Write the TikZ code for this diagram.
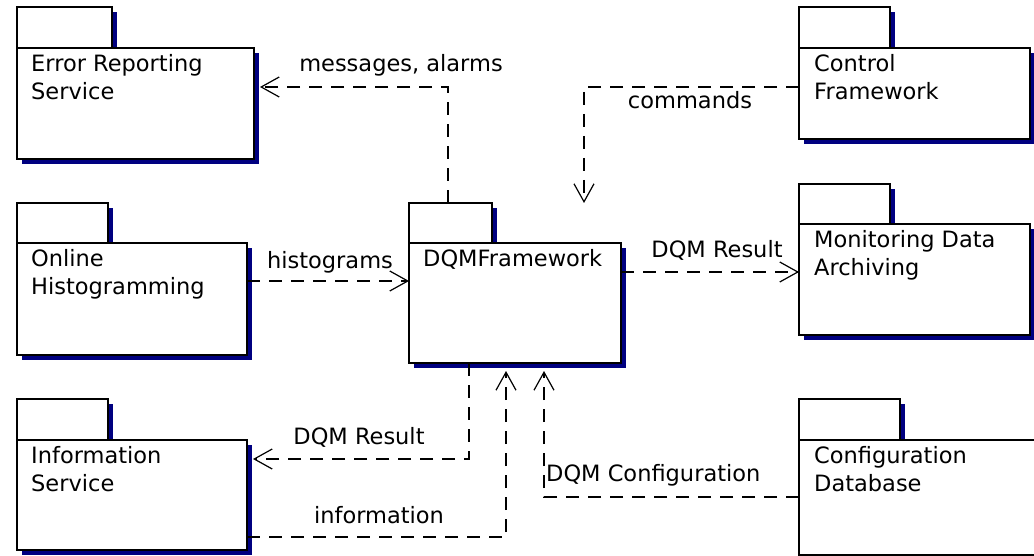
\documentclass[tikz,border=0pt]{standalone}
\usepackage{fontspec}
\setmainfont{DejaVu Sans}
\usetikzlibrary{arrows.meta,shadows,calc}
\definecolor{pkgshadow}{RGB}{0,0,128}
\begin{document}
\begin{tikzpicture}[x=1pt,y=-1pt,
  every node/.style={font=\fontsize{22.5}{28}\selectfont},
  pkgpart/.style={draw, fill=white, line width=1.2pt, inner sep=0pt, outer sep=0pt, anchor=north west,
    general shadow={fill=pkgshadow, shadow xshift=5pt, shadow yshift=-5pt}},
  pkgtext/.style={anchor=north west, inner sep=0pt, align=left},
  lbl/.style={inner sep=0pt},
  dep/.style={line width=1.2pt, dash pattern=on 13pt off 9pt,
    -{Straight Barb[length=18pt,width=20pt,line width=1.2pt]}}
]
\path[use as bounding box, clip] (0,0) rectangle (1034,556);

% Error Reporting Service
\node[pkgpart, minimum width=95pt, minimum height=41pt] (erstab) at (17,7) {};
\node[pkgpart, minimum width=237pt, minimum height=111pt] (ers) at (17,48) {};
\node[pkgtext] (erst) at (31,54) {Error Reporting\\Service};

% Online Histogramming
\node[pkgpart, minimum width=91pt, minimum height=40pt] (ohtab) at (17,203) {};
\node[pkgpart, minimum width=230pt, minimum height=112pt] (oh) at (17,243) {};
\node[pkgtext] (oht) at (31,249) {Online\\Histogramming};

% Information Service
\node[pkgpart, minimum width=91pt, minimum height=41pt] (istab) at (17,399) {};
\node[pkgpart, minimum width=230pt, minimum height=110pt] (is) at (17,440) {};
\node[pkgtext] (ist) at (31,446) {Information\\Service};

% DQMFramework
\node[pkgpart, minimum width=83pt, minimum height=40pt] (dqmtab) at (409,203) {};
\node[pkgpart, minimum width=212pt, minimum height=120pt] (dqm) at (409,243) {};
\node[pkgtext] (dqmt) at (423,249) {DQMFramework};

% Control Framework
\node[pkgpart, minimum width=91pt, minimum height=41pt] (cftab) at (799,7) {};
\node[pkgpart, minimum width=231pt, minimum height=91pt] (cf) at (799,48) {};
\node[pkgtext] (cft) at (814,54) {Control\\Framework};

% Monitoring Data Archiving
\node[pkgpart, minimum width=91pt, minimum height=40pt] (mdatab) at (799,184) {};
\node[pkgpart, minimum width=231pt, minimum height=111pt] (mda) at (799,224) {};
\node[pkgtext] (mdat) at (814,230) {Monitoring Data\\Archiving};

% Configuration Database
\node[pkgpart, minimum width=101pt, minimum height=41pt] (cdbtab) at (799,399) {};
\node[pkgpart, minimum width=250pt, minimum height=115pt] (cdb) at (799,440) {};
\node[pkgtext] (cdbt) at (814,446) {Configuration\\Database};

% bend points
\coordinate (b1) at (448,87);
\coordinate (b2) at (584,87);
\coordinate (c2) at (584,203);
\coordinate (b3) at (0,281);
\coordinate (b4) at (0,272);
\coordinate (b5) at (469,459);
\coordinate (b6) at (506,537);
\coordinate (b7) at (544,497);

% connectors
\draw[dep] (b1 |- dqmtab.north) -- (b1) -- ([xshift=6pt]b1 -| ers.east);
\draw[dep] (b2 -| cf.west) -- (b2) -- (c2);
\draw[dep] (b3 -| oh.east) -- (b3 -| dqm.west);
\draw[dep] (b4 -| dqm.east) -- (b4 -| mda.west);
\draw[dep] (b5 |- dqm.south) -- (b5) -- ([xshift=6pt]b5 -| is.east);
\draw[dep] (b6 -| is.east) -- (b6) -- ([yshift=-8pt]b6 |- dqm.south);
\draw[dep] (b7 -| cdb.west) -- (b7) -- ([yshift=-8pt]b7 |- dqm.south);

% labels
\node[lbl] (l1) at (401,65) {messages, alarms};
\node[lbl] (l2) at (690,100) {commands};
\node[lbl] (l3) at (330,262) {histograms};
\node[lbl] (l4) at (717,250) {DQM Result};
\node[lbl] (l5) at (359,437) {DQM Result};
\node[lbl] (l6) at (379,515) {information};
\node[lbl, anchor=west] (l7) at (546,475) {DQM Configuration};
\end{tikzpicture}
\end{document}
